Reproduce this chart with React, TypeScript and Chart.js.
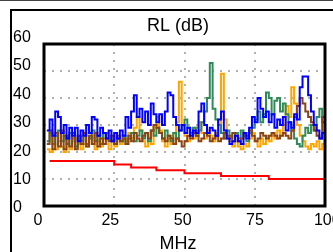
import React, { useEffect, useRef } from "react";
import { Chart, registerables } from "chart.js";

Chart.register(...registerables);

// Frequency points (MHz)
const freqs = [
  1, 2, 3, 4, 5, 6, 7, 8, 9, 10, 11, 12, 13, 14, 15, 16, 17, 18, 19, 20,
  21, 22, 23, 24, 25, 26, 27, 28, 29, 30, 31, 32, 33, 34, 35, 36, 37, 38, 39, 40,
  41, 42, 43, 44, 45, 46, 47, 48, 49, 50, 51, 52, 53, 54, 55, 56, 57, 58, 59, 60,
  61, 62, 63, 64, 65, 66, 67, 68, 69, 70, 71, 72, 73, 74, 75, 76, 77, 78, 79, 80,
  81, 82, 83, 84, 85, 86, 87, 88, 89, 90, 91, 92, 93, 94, 95, 96, 97, 98, 99, 100,
];

// Return loss traces (dB)
const bluePair = [
  28, 32, 26, 35, 33, 27, 30, 25, 29, 26, 29, 24, 28, 26, 30, 27, 33, 32, 26, 29,
  27, 25, 28, 24, 27, 25, 28, 26, 33, 29, 35, 41, 33, 36, 31, 35, 30, 38, 34, 31,
  34, 30, 35, 42, 41, 33, 30, 28, 30, 27, 29, 26, 28, 27, 35, 38, 30, 27, 29, 28,
  26, 32, 35, 28, 25, 23, 24, 26, 24, 23, 27, 25, 29, 33, 31, 40, 36, 33, 35, 31,
  34, 29, 32, 30, 33, 28, 31, 29, 34, 32, 44, 48, 48, 41, 35, 30, 28, 25, 27, 24,
];
const orangePair = [
  21, 20, 23, 21, 24, 22, 20, 23, 21, 24, 22, 25, 21, 23, 22, 26, 23, 21, 24, 22,
  25, 23, 21, 24, 22, 25, 23, 26, 24, 27, 25, 29, 33, 28, 24, 22, 25, 23, 30, 33,
  28, 24, 22, 25, 23, 27, 31, 46, 30, 26, 24, 27, 25, 29, 31, 27, 25, 28, 26, 24,
  27, 30, 49, 32, 26, 24, 22, 24, 22, 21, 23, 22, 25, 27, 24, 22, 25, 23, 26, 24,
  27, 25, 28, 26, 30, 37, 33, 44, 38, 30, 26, 24, 22, 21, 23, 22, 24, 21, 23, 22,
];
const greenPair = [
  24, 27, 23, 26, 28, 24, 26, 23, 27, 25, 22, 26, 24, 27, 23, 25, 28, 24, 26, 23,
  27, 25, 24, 26, 23, 25, 24, 26, 23, 25, 27, 24, 26, 28, 25, 27, 24, 28, 26, 29,
  27, 25, 28, 26, 24, 27, 25, 28, 30, 32, 29, 27, 29, 26, 28, 31, 35, 40, 53, 36,
  32, 30, 27, 25, 28, 26, 24, 27, 25, 28, 26, 24, 27, 29, 32, 35, 31, 34, 42, 40,
  34, 39, 40, 35, 38, 34, 31, 28, 25, 23, 22, 26, 29, 27, 30, 28, 33, 36, 31, 29,
];
const brownPair = [
  23, 28, 21, 27, 22, 28, 21, 26, 22, 27, 21, 26, 23, 27, 22, 26, 23, 27, 22, 25,
  23, 27, 24, 26, 23, 26, 24, 25, 23, 26, 24, 27, 25, 24, 26, 27, 25, 28, 30, 29,
  27, 25, 24, 26, 25, 23, 25, 24, 22, 24, 26, 25, 27, 26, 24, 25, 27, 26, 24, 25,
  26, 24, 25, 27, 26, 25, 27, 26, 24, 25, 27, 26, 28, 26, 24, 25, 27, 26, 25, 26,
  27, 26, 25, 26, 27, 26, 25, 28, 33, 37, 40, 38, 35, 33, 31, 28, 26, 25, 33, 37,
];

// Limit line (stepped)
const limitFreqs = [2, 25, 31, 40, 50, 63, 80, 100];
const limitValues = [16.7, 15.4, 14.3, 13.2, 12.1, 11.1, 10.0, 10.0];

// Tick labels
const yTickValues = [0, 10, 20, 30, 40, 50, 60];
const xTickValues = [0, 25, 50, 75, 100];
const chartTitle = "RL (dB)";
const xAxisTitle = "MHz";

const FONT = "'Liberation Sans', Arial, Helvetica, sans-serif";

const plotFrame = {
  id: "plotFrame",
  afterDatasetsDraw(chart: any) {
    const { ctx, chartArea: a } = chart;
    ctx.save();
    ctx.strokeStyle = "#000";
    ctx.lineWidth = 3;
    ctx.strokeRect(a.left, a.top, a.right - a.left, a.bottom - a.top);
    ctx.restore();
  },
};

function pts(xs: number[], ys: number[]) {
  return xs.map((x, i) => ({ x, y: ys[i] }));
}

function line(label: string, xs: number[], ys: number[], color: string) {
  return {
    label,
    data: pts(xs, ys),
    borderColor: color,
    backgroundColor: color,
    borderWidth: 2,
    pointRadius: 0,
    stepped: true,
    fill: false,
  };
}

export default function App() {
  const ref = useRef<HTMLCanvasElement | null>(null);

  useEffect(() => {
    if (!ref.current) return;
    const gridColor = "#b0b0b0";
    const chart = new Chart(ref.current, {
      type: "line",
      data: {
        datasets: [
          line("Pair 1", freqs, bluePair, "#0000ff"),
          line("Pair 4", freqs, brownPair, "#8b4513"),
          line("Pair 3", freqs, greenPair, "#2e8b57"),
          line("Pair 2", freqs, orangePair, "#ffa500"),
          line("Limit", limitFreqs, limitValues, "#ff0000"),
        ] as any,
      },
      plugins: [plotFrame],
      options: {
        responsive: false,
        animation: false,
        devicePixelRatio: 1,
        layout: { padding: { left: 13, right: 0, top: 0, bottom: 0 } },
        plugins: {
          legend: { display: false },
          tooltip: { enabled: false },
          title: {
            display: true,
            text: chartTitle,
            color: "#000",
            font: { family: FONT, size: 18, weight: "normal" },
            padding: { top: 15.2, bottom: 7.2 },
          },
          subtitle: {
            display: true,
            position: "bottom",
            text: xAxisTitle,
            color: "#000",
            font: { family: FONT, size: 18, weight: "normal" },
            padding: { top: 1.1, bottom: 5.3 },
          },
        },
        scales: {
          x: {
            type: "linear",
            position: "bottom",
            min: 0,
            max: 100,
            ticks: { display: false, stepSize: 25 },
            grid: { color: gridColor, lineWidth: 2, drawTicks: false },
            border: { display: false, dash: [2, 6] },
            afterFit: (s: any) => {
              s.height = 0;
              s.paddingLeft = 0;
              s.paddingRight = 0;
            },
          },
          xl: {
            type: "linear",
            position: "bottom",
            min: 2.074,
            max: 99.2,
            afterBuildTicks: (s: any) => {
              s.ticks = xTickValues.map((v) => ({ value: v }));
            },
            ticks: {
              autoSkip: false,
              maxRotation: 0,
              padding: 4.7,
              color: "#000",
              font: { family: FONT, size: 16 },
            },
            grid: { display: false, drawTicks: false },
            border: { display: false },
            afterFit: (s: any) => {
              s.height = 26;
              s.paddingLeft = 0;
              s.paddingRight = 0;
            },
          },
          y: {
            type: "linear",
            position: "left",
            min: 0,
            max: 60,
            ticks: { display: false, stepSize: 10 },
            grid: { color: gridColor, lineWidth: 2, drawTicks: false },
            border: { display: false, dash: [2, 6] },
            afterFit: (s: any) => {
              s.width = 0;
              s.paddingTop = 0;
              s.paddingBottom = 0;
            },
          },
          yl: {
            type: "linear",
            position: "left",
            min: 0.703,
            max: 57.64,
            afterBuildTicks: (s: any) => {
              s.ticks = yTickValues.map((v) => ({ value: v }));
            },
            ticks: {
              autoSkip: false,
              crossAlign: "far",
              color: "#000",
              font: { family: FONT, size: 16 },
            },
            grid: { display: false, drawTicks: false },
            border: { display: false },
            afterFit: (s: any) => {
              s.width = 31;
              s.paddingTop = 0;
              s.paddingBottom = 0;
            },
          },
          yr: {
            type: "linear",
            position: "right",
            ticks: { display: false },
            grid: { display: false, drawTicks: false },
            border: { display: false },
            afterFit: (s: any) => {
              s.width = 18;
              s.paddingTop = 0;
              s.paddingBottom = 0;
            },
          },
        },
      } as any,
    });
    return () => chart.destroy();
  }, []);

  return (
    <div
      style={{
        position: "absolute",
        left: 0,
        top: 0,
        width: 333,
        height: 252,
        overflow: "hidden",
        background: "#fff",
      }}
    >
      <div
        style={{
          position: "absolute",
          left: 0,
          top: 0,
          width: 333,
          height: 1,
          background: "#444",
        }}
      />
      <div
        style={{
          position: "absolute",
          left: 10,
          top: 9,
          width: 400,
          height: 400,
          borderLeft: "2px solid #000",
          borderTop: "2px solid #000",
        }}
      />
      <canvas
        ref={ref}
        width={343}
        height={260}
        style={{ position: "absolute", left: 0, top: 0, width: 343, height: 260 }}
      />
    </div>
  );
}
